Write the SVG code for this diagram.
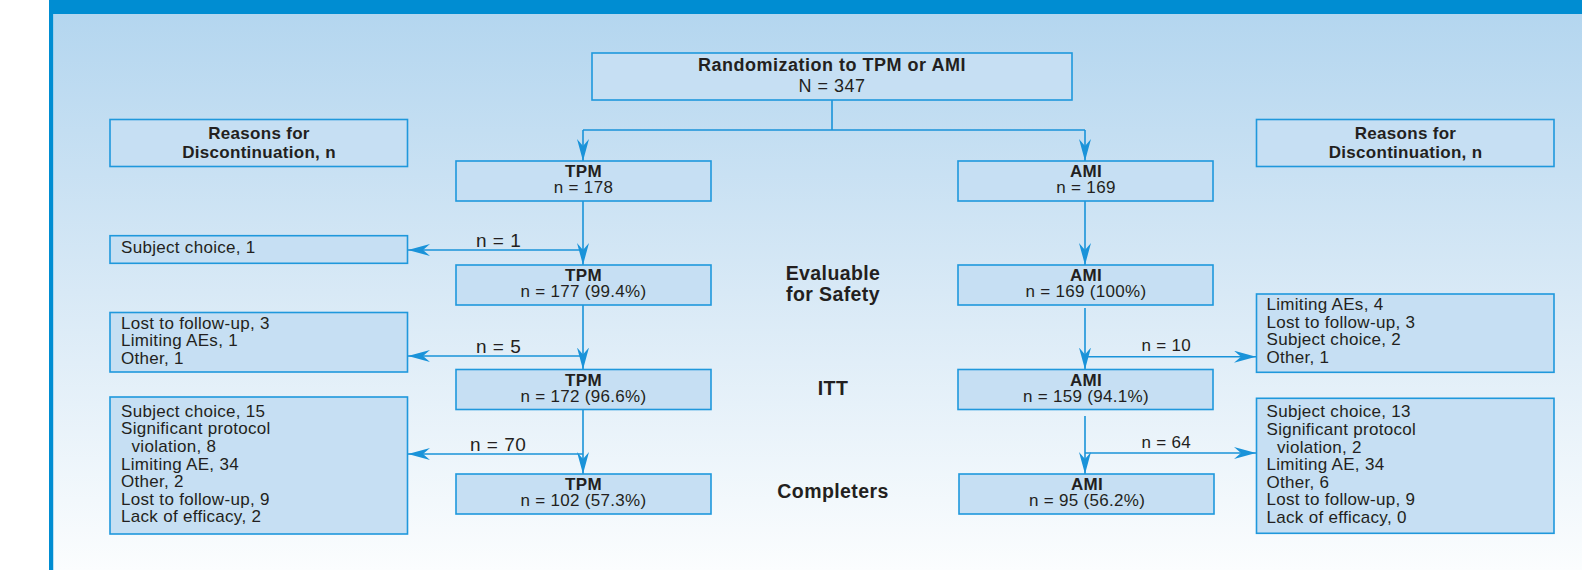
<svg xmlns="http://www.w3.org/2000/svg" width="1582" height="570" viewBox="0 0 1582 570">
<defs>
<linearGradient id="bg" x1="0" y1="0" x2="0" y2="1">
<stop offset="0" stop-color="#b4d6ef"/>
<stop offset="0.5" stop-color="#d8e9f6"/>
<stop offset="1" stop-color="#fbfdfe"/>
</linearGradient>
<marker id="arr" viewBox="0 0 22 12" refX="22" refY="6" markerWidth="22" markerHeight="12" markerUnits="userSpaceOnUse" orient="auto">
<path d="M0,0 L22,6 L0,12 L7,6 Z" fill="#1a93d9"/>
</marker>
<style>
.box{fill:#c6dff3;stroke:#1f98dc;stroke-width:1.6}
.t{font-family:"Liberation Sans",Arial,sans-serif;font-size:17px;fill:#231f20;letter-spacing:0.3px}
.b{font-weight:bold}
.c{text-anchor:middle}
.ttl{font-size:18px;letter-spacing:0.5px}
.ph{font-size:19.5px;letter-spacing:0.4px;font-weight:bold;text-anchor:middle}
.lbl{font-size:19px;letter-spacing:0.5px}
.lbr{font-size:17px;letter-spacing:0.3px}
.ln{fill:none;stroke:#1a93d9;stroke-width:1.6}
</style>
</defs>
<rect x="0" y="0" width="1582" height="570" fill="#ffffff"/>
<rect x="49" y="0" width="1533" height="14" fill="#008dd2"/>
<rect x="49" y="0" width="4.5" height="570" fill="#008dd2"/>
<rect x="53.5" y="14" width="1528.5" height="556" fill="url(#bg)"/>

<g id="connectors">
<path class="ln" d="M832,100 V130 M583,130 H1085"/>
<path class="ln" d="M583,130 V161" marker-end="url(#arr)"/>
<path class="ln" d="M1085,130 V161" marker-end="url(#arr)"/>
<path class="ln" d="M583,201 V265" marker-end="url(#arr)"/>
<path class="ln" d="M583,305 V369.5" marker-end="url(#arr)"/>
<path class="ln" d="M583,409.5 V474" marker-end="url(#arr)"/>
<path class="ln" d="M583,250 H408" marker-end="url(#arr)"/>
<path class="ln" d="M583,356 H408" marker-end="url(#arr)"/>
<path class="ln" d="M583,454 H408" marker-end="url(#arr)"/>
<path class="ln" d="M1085,201 V265" marker-end="url(#arr)"/>
<path class="ln" d="M1085,308 V369.5" marker-end="url(#arr)"/>
<path class="ln" d="M1085,416 V474" marker-end="url(#arr)"/>
<path class="ln" d="M1085,356.7 H1256" marker-end="url(#arr)"/>
<path class="ln" d="M1085,453 H1256" marker-end="url(#arr)"/>
<text class="t lbl" x="476" y="246.7">n = 1</text>
<text class="t lbl" x="476" y="352.7">n = 5</text>
<text class="t lbl" x="470" y="450.7">n = 70</text>
<text class="t lbr" x="1141.5" y="350.7">n = 10</text>
<text class="t lbr" x="1141.5" y="447.7">n = 64</text>
</g>

<g id="randomization">
<rect class="box" x="592" y="53" width="480" height="47"/>
<text class="t b c ttl" x="832" y="70.7">Randomization to TPM or AMI</text>
<text class="t c ttl" x="832" y="91.7">N = 347</text>
</g>

<g id="reasons-left">
<rect class="box" x="110" y="119.5" width="297.5" height="47"/>
<text class="t b c" x="259" y="139">Reasons for</text>
<text class="t b c" x="259" y="157.7">Discontinuation, n</text>
</g>
<g id="reasons-right">
<rect class="box" x="1256.5" y="119.5" width="297.5" height="47"/>
<text class="t b c" x="1405.5" y="139">Reasons for</text>
<text class="t b c" x="1405.5" y="157.7">Discontinuation, n</text>
</g>

<g id="tpm-1">
<rect class="box" x="456" y="161" width="255" height="40"/>
<text class="t b c" x="583.5" y="176.7">TPM</text>
<text class="t c" x="583.5" y="193.3">n = 178</text>
</g>
<g id="tpm-2">
<rect class="box" x="456" y="265" width="255" height="40"/>
<text class="t b c" x="583.5" y="280.7">TPM</text>
<text class="t c" x="583.5" y="297">n = 177 (99.4%)</text>
</g>
<g id="tpm-3">
<rect class="box" x="456" y="369.5" width="255" height="40"/>
<text class="t b c" x="583.5" y="386">TPM</text>
<text class="t c" x="583.5" y="402">n = 172 (96.6%)</text>
</g>
<g id="tpm-4">
<rect class="box" x="456" y="474" width="255" height="40"/>
<text class="t b c" x="583.5" y="490">TPM</text>
<text class="t c" x="583.5" y="506">n = 102 (57.3%)</text>
</g>

<g id="ami-1">
<rect class="box" x="958" y="161" width="255" height="40"/>
<text class="t b c" x="1086" y="176.7">AMI</text>
<text class="t c" x="1086" y="193.3">n = 169</text>
</g>
<g id="ami-2">
<rect class="box" x="958" y="265" width="255" height="40"/>
<text class="t b c" x="1086" y="280.7">AMI</text>
<text class="t c" x="1086" y="297">n = 169 (100%)</text>
</g>
<g id="ami-3">
<rect class="box" x="958" y="369.5" width="255" height="40"/>
<text class="t b c" x="1086" y="386">AMI</text>
<text class="t c" x="1086" y="402">n = 159 (94.1%)</text>
</g>
<g id="ami-4">
<rect class="box" x="959" y="474" width="255" height="40"/>
<text class="t b c" x="1087" y="490">AMI</text>
<text class="t c" x="1087" y="506">n = 95 (56.2%)</text>
</g>

<g id="phase-labels">
<text class="t ph" x="833" y="280">Evaluable</text>
<text class="t ph" x="833" y="301">for Safety</text>
<text class="t ph" x="833" y="395">ITT</text>
<text class="t ph" x="833" y="498.3">Completers</text>
</g>

<g id="left-disc-1">
<rect class="box" x="110" y="235.7" width="297.5" height="27.6"/>
<text class="t" x="121" y="253.3">Subject choice, 1</text>
</g>
<g id="left-disc-2">
<rect class="box" x="110" y="312.5" width="297.5" height="59.5"/>
<text class="t" x="121" y="328.5">Lost to follow-up, 3</text>
<text class="t" x="121" y="346">Limiting AEs, 1</text>
<text class="t" x="121" y="363.5">Other, 1</text>
</g>
<g id="left-disc-3">
<rect class="box" x="110" y="397" width="297.5" height="137"/>
<text class="t" x="121" y="416.7">Subject choice, 15</text>
<text class="t" x="121" y="434.3">Significant protocol</text>
<text class="t" x="131.5" y="451.9">violation, 8</text>
<text class="t" x="121" y="469.5">Limiting AE, 34</text>
<text class="t" x="121" y="487.1">Other, 2</text>
<text class="t" x="121" y="504.7">Lost to follow-up, 9</text>
<text class="t" x="121" y="522.3">Lack of efficacy, 2</text>
</g>

<g id="right-disc-2">
<rect class="box" x="1256.5" y="294" width="297.5" height="78.3"/>
<text class="t" x="1266.5" y="310">Limiting AEs, 4</text>
<text class="t" x="1266.5" y="327.7">Lost to follow-up, 3</text>
<text class="t" x="1266.5" y="345.3">Subject choice, 2</text>
<text class="t" x="1266.5" y="363">Other, 1</text>
</g>
<g id="right-disc-3">
<rect class="box" x="1256.5" y="398.3" width="297.5" height="135"/>
<text class="t" x="1266.5" y="417.3">Subject choice, 13</text>
<text class="t" x="1266.5" y="435">Significant protocol</text>
<text class="t" x="1277" y="452.6">violation, 2</text>
<text class="t" x="1266.5" y="470.2">Limiting AE, 34</text>
<text class="t" x="1266.5" y="487.8">Other, 6</text>
<text class="t" x="1266.5" y="505.4">Lost to follow-up, 9</text>
<text class="t" x="1266.5" y="523">Lack of efficacy, 0</text>
</g>
</svg>
